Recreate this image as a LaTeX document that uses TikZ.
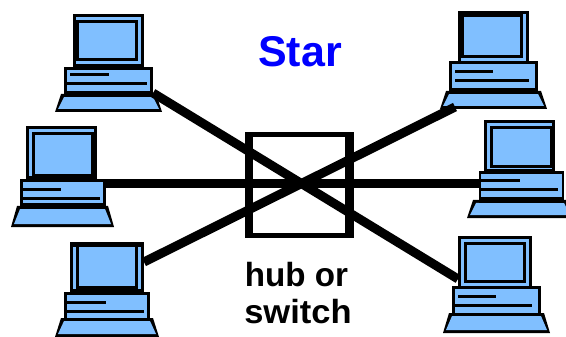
\documentclass[tikz,border=0pt]{standalone}
\usepackage{fontspec}
\setmainfont{Liberation Sans}
\definecolor{pcblue}{RGB}{128,191,255}
\newcommand{\bk}[4]{\fill[black] (#1,#2) rectangle (#3,#4);}
\newcommand{\bl}[4]{\fill[pcblue] (#1,#2) rectangle (#3,#4);}
% foot: top-left, top-right, bottom-left, bottom-right, top y, bottom y, band bottom y
\newcommand{\foot}[7]{%
  \fill[black] (#1,#5) -- (#2,#5) -- (#4,#6) -- (#3,#6) -- cycle;
  \fill[pcblue] ({#1+3},#7) -- ({#2-3},#7) -- ({#4-3},{#6-3}) -- ({#3+3},{#6-3}) -- cycle;}
\tikzset{
  x=1pt,y=-1pt,
  link/.style={draw=black,line width=9pt},
  hubouter/.style={fill=black,inner sep=0pt,minimum width=108.5pt,minimum height=106pt},
  hubinner/.style={fill=white,inner sep=0pt,minimum width=92pt,minimum height=96pt},
  lab/.style={font=\bfseries\fontsize{33.5}{33.5}\selectfont,inner sep=0pt,anchor=base},
}
\begin{document}
\begin{tikzpicture}
\useasboundingbox (0,0) rectangle (566,337);
\clip (0,0) rectangle (566,337);
% top left
\bk{73}{14}{144}{67}\bl{76}{17}{141}{64}\bk{76}{20}{138}{61}\bl{79}{23}{135}{58}
\foot{61}{156}{55}{162}{94}{112}{97}
\bk{64}{67}{153}{97}\bl{67}{70}{150}{91}\bk{70}{73}{109}{76}\bk{67}{82}{147}{85}
% middle left
\bk{26}{126}{97}{179}\bl{29}{129}{94}{176}\bk{32}{132}{97}{179}\bl{35}{135}{91}{174}
\foot{17}{108}{11}{114}{206}{227}{209}
\bk{20}{179}{106}{209}\bl{23}{182}{103}{203}\bk{23}{188}{61}{191}\bk{23}{197}{100}{200}
% bottom left
\bk{70}{242}{144}{292}\bl{73}{247}{141}{289}\bk{76}{242}{138}{289}\bl{79}{247}{135}{286}
\foot{61}{153}{55}{159}{318}{337}{321}
\bk{64}{292}{150}{321}\bl{67}{295}{147}{318}\bk{67}{301}{106}{304}\bk{67}{310}{144}{313}
% top right
\bk{458}{11}{529}{61}\bl{461}{14}{526}{61}\bk{458}{11}{523}{58}\bl{464}{17}{520}{55}
\foot{446}{541}{440}{547}{91}{109}{94}
\bk{449}{61}{538}{94}\bl{452}{64}{535}{88}\bk{455}{70}{493}{73}\bk{455}{79}{529}{82}
% middle right
\bk{484}{120}{555}{172}\bl{487}{123}{552}{169}\bk{490}{126}{555}{168}\bl{493}{129}{550}{165}
\foot{473}{567}{467}{573}{200}{218}{203}
\bk{479}{171}{564}{203}\bl{481}{174}{562}{197}\bk{481}{179}{520}{182}\bk{481}{188}{558}{191}
% bottom right
\bk{458}{236}{532}{286}\bl{461}{239}{529}{286}\bk{464}{242}{526}{283}\bl{467}{245}{523}{280}
\foot{449}{544}{443}{550}{313}{333}{316}
\bk{452}{286}{541}{316}\bl{455}{289}{538}{313}\bk{458}{295}{496}{298}\bk{455}{304}{532}{307}
% connectors
\coordinate (tl) at (153,93);
\coordinate (ml) at (106,183.5);
\coordinate (bl) at (144,262);
\coordinate (tr) at (455,107);
\coordinate (mr) at (479,183.5);
\coordinate (br) at (458,279);
\node[hubouter] (hub) at (299.25,185) {};
\node[hubinner] (hubin) at (299,185) {};
\draw[link] (tl) -- (br);
\draw[link] (bl) -- (tr);
\draw[link] (ml) -- (mr);
\node[text=blue,font=\bfseries\fontsize{43}{43}\selectfont,inner sep=0pt] (title) at (300,52) {Star};
\node[lab,xscale=0.99] (hubl) at (296.5,286) {hub or};
\node[lab,xscale=1.03] (swl) at (298,323) {switch};
\end{tikzpicture}
\end{document}
